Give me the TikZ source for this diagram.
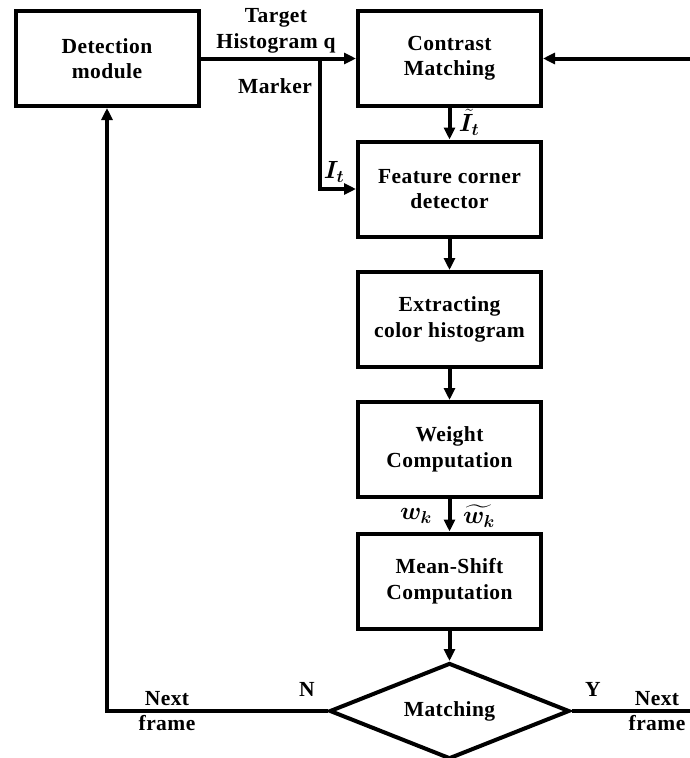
\documentclass[tikz,border=0pt]{standalone}
\usepackage{amsmath,bm}
\usepackage{fontspec}
\setmainfont{Liberation Serif}[LetterSpace=2]
\usetikzlibrary{shapes.geometric,arrows.meta}
\tikzset{
  blk/.style={draw,line width=4pt,minimum width=183pt,minimum height=95pt,align=center,inner sep=0pt,font=\fontsize{21.5}{25.5}\selectfont\bfseries},
  lbl/.style={align=center,inner sep=0pt,font=\fontsize{21.5}{25.5}\selectfont\bfseries},
  mlbl/.style={inner sep=0pt,font=\fontsize{23}{26}\selectfont},
  dec/.style={draw,diamond,line width=4pt,minimum width=240pt,minimum height=96pt,inner sep=0pt,aspect=2.5,font=\fontsize{21.5}{25.5}\selectfont\bfseries},
  conn/.style={line width=4pt,-{Triangle[length=12pt,width=11pt]}},
  ln/.style={line width=4pt}
}
\begin{document}
\begin{tikzpicture}[x=1pt,y=-1pt]
\useasboundingbox (0,0) rectangle (690,758);
\node[blk] (det) at (107,58.5) {Detection\\module};
\node[blk] (con) at (449.5,58.5) {Contrast\\Matching};
\node[blk] (feat) at (449.5,189) {Feature corner\\detector};
\node[blk] (ext) at (449.5,319.5) {Extracting\\color histogram};
\node[blk] (wgt) at (449.5,449.5) {Weight\\Computation};
\node[blk] (ms) at (449.5,581) {Mean-Shift\\Computation};
\node[dec] (m) at (449.5,711) {Matching};
\coordinate (br) at (320,58.5);
\coordinate (rin) at (690,58.5);
\coordinate (lc) at (107,711);
\coordinate (rout) at (690,711);
% connectors
\draw[conn] (det.east) -- (con.west);
\draw[conn] (br) |- (feat.west);
\draw[conn] (rin) -- (con.east);
\draw[conn] (con.south) -- (feat.north);
\draw[conn] (feat.south) -- (ext.north);
\draw[conn] (ext.south) -- (wgt.north);
\draw[conn] (wgt.south) -- (ms.north);
\draw[conn] (ms.south) -- (m.north);
\draw[conn] (m.west) -- (lc) -- (det.south);
\draw[ln] (m.east) -- (rout);
% labels
\node[lbl] (tq) at (276,31) {Target\\Histogram q};
\node[lbl] (mk) at (275,86) {Marker};
\node[mlbl] (it) at (334,172) {$\bm{I_t}$};
\node[mlbl] (itt) at (469,122) {$\tilde{\bm{I}}_{\bm t}$};
\node[mlbl] (wk) at (416,516) {$\bm{w_k}$};
\node[mlbl] (wkt) at (479,516) {$\widetilde{\bm{w_k}}$};
\node[lbl] (n) at (307,689) {N};
\node[lbl] (y) at (593,689) {Y};
\node[lbl] (nf1) at (167,711) {Next\\frame};
\node[lbl] (nf2) at (657,711) {Next\\frame};
\end{tikzpicture}
\end{document}
